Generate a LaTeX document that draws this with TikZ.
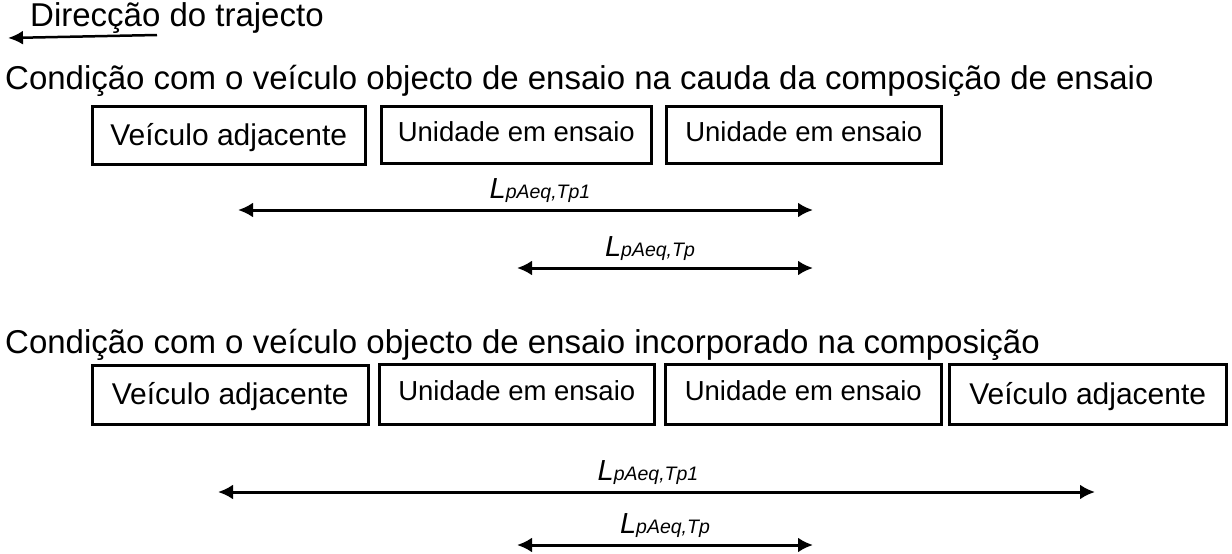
\documentclass[tikz,border=0pt]{standalone}
\usepackage{fontspec}
\setmainfont{Liberation Sans}
\usetikzlibrary{arrows.meta}
\newcommand{\Llab}[1]{{\fontsize{29}{29}\selectfont\itshape L}{\fontsize{19.5}{19.5}\selectfont\itshape #1}}
\begin{document}
\begin{tikzpicture}[x=1pt,y=-1pt,
  box/.style={draw,line width=2.5pt,anchor=north west,inner sep=0pt,align=center},
  big/.style={font=\fontsize{30}{30}\selectfont,text height=22pt,text depth=2pt},
  small/.style={font=\fontsize{27.5}{27.5}\selectfont,text height=20pt,text depth=7pt},
  title/.style={anchor=base west,inner sep=0pt,font=\fontsize{33}{33}\selectfont},
  dim/.style={line width=3pt,{Latex[length=15pt,width=15pt]}-{Latex[length=15pt,width=15pt]}},
  lab/.style={anchor=base,inner sep=0pt}]
\useasboundingbox (0,0) rectangle (1232,554);
% direction
\node[title] (dir) at (30,26) {Direcção do trajecto};
\coordinate (d1) at (157,35);
\coordinate (d2) at (8,38);
\draw[line width=2.5pt,-{Latex[length=15pt,width=14pt]}] (d1) -- (d2);
% condition 1
\node[title] (t1) at (5,89) {Condição com o veículo objecto de ensaio na cauda da composição de ensaio};
\node[box,big,minimum width=273pt,minimum height=58pt] (b11) at (91,105) {Veículo adjacente};
\node[box,small,minimum width=270pt,minimum height=57pt] (b12) at (380,105) {Unidade em ensaio};
\node[box,small,minimum width=275pt,minimum height=57pt] (b13) at (665,105) {Unidade em ensaio};
\coordinate (a1l) at (238,210);
\coordinate (a1r) at (813,210);
\draw[dim] (a1l) -- (a1r);
\node[lab] (l1) at (540,198) {\Llab{pAeq,Tp1}};
\coordinate (a2l) at (517,268);
\coordinate (a2r) at (813,268);
\draw[dim] (a2l) -- (a2r);
\node[lab] (l2) at (650,256) {\Llab{pAeq,Tp}};
% condition 2
\node[title] (t2) at (5,353) {Condição com o veículo objecto de ensaio incorporado na composição};
\node[box,big,minimum width=276pt,minimum height=59pt] (b21) at (91,364) {Veículo adjacente};
\node[box,small,minimum width=275pt,minimum height=60pt] (b22) at (378,363) {Unidade em ensaio};
\node[box,small,minimum width=276pt,minimum height=60pt] (b23) at (664,363) {Unidade em ensaio};
\node[box,big,minimum width=277pt,minimum height=60pt] (b24) at (948,363) {Veículo adjacente};
\coordinate (a3l) at (218,492);
\coordinate (a3r) at (1095,492);
\draw[dim] (a3l) -- (a3r);
\node[lab] (l3) at (648,480) {\Llab{pAeq,Tp1}};
\coordinate (a4l) at (517,545);
\coordinate (a4r) at (813,545);
\draw[dim] (a4l) -- (a4r);
\node[lab] (l4) at (665,533) {\Llab{pAeq,Tp}};
\end{tikzpicture}
\end{document}
